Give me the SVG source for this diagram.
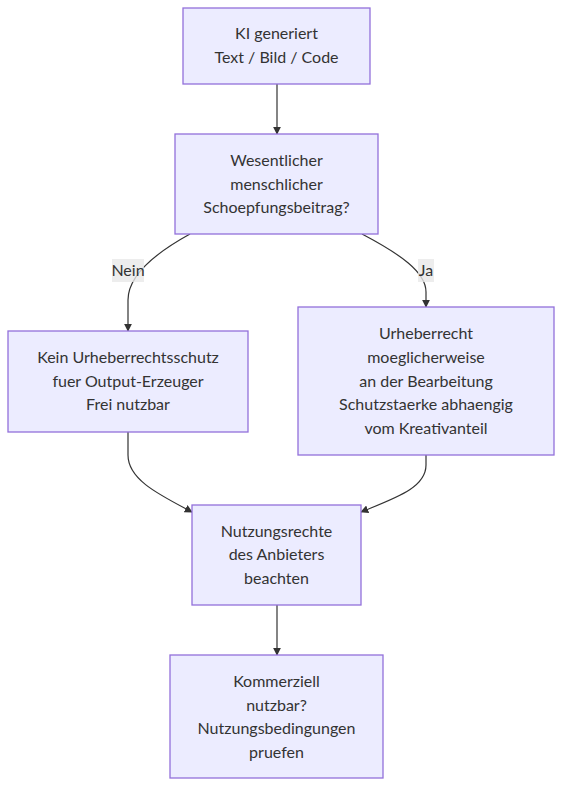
<svg xmlns="http://www.w3.org/2000/svg" width="570" height="798" viewBox="0 0 570 798">
<style>
.node rect{fill:#ECECFF;stroke:#9370DB;stroke-width:1.3px}
.node text{font-family:Lato,"Liberation Sans",sans-serif;font-size:16px;fill:#333;text-anchor:middle}
.edge{fill:none;stroke:#333;stroke-width:1.2px}
.lbl rect{fill:#e8e8e8;opacity:0.8}
.lbl text{font-family:Lato,"Liberation Sans",sans-serif;font-size:16px;fill:#333;text-anchor:middle}
</style>
<defs>
<marker id="arr" viewBox="0 0 10 10" refX="9" refY="5" markerWidth="8" markerHeight="8" markerUnits="userSpaceOnUse" orient="auto">
<path d="M0,0 L10,5 L0,10 z" fill="#333"/>
</marker>
</defs>
<rect width="570" height="798" fill="#fff"/>
<g id="connectors">
<path class="edge" d="M277,84 L277,134" marker-end="url(#arr)"/>
<path class="edge" d="M190,234 C150,256 128,278 128,300 L128,331" marker-end="url(#arr)"/>
<path class="edge" d="M362,234 C400,254 426,272 426,292 L426,307" marker-end="url(#arr)"/>
<path class="edge" d="M128,432 L128,455 C128,480 160,495 192,512" marker-end="url(#arr)"/>
<path class="edge" d="M426,455 L426,465 C426,488 395,498 361,512" marker-end="url(#arr)"/>
<path class="edge" d="M277,605 L277,655" marker-end="url(#arr)"/>
</g>
<g id="edge-labels">
<g class="lbl" id="label-nein"><rect x="112" y="259" width="32" height="23"/><text x="128" y="276">Nein</text></g>
<g class="lbl" id="label-ja"><rect x="418" y="259" width="16" height="23"/><text x="426" y="276">Ja</text></g>
</g>
<g id="n1" class="node"><rect x="183" y="8" width="187" height="76"/><text x="276.5" y="39">KI generiert</text><text x="276.5" y="63">Text / Bild / Code</text></g>
<g id="n2" class="node"><rect x="175" y="134" width="203" height="100"/><text x="276.5" y="166">Wesentlicher</text><text x="276.5" y="189.5">menschlicher</text><text x="276.5" y="213">Schoepfungsbeitrag?</text></g>
<g id="n3" class="node"><rect x="8" y="331" width="240" height="101"/><text x="128" y="363">Kein Urheberrechtsschutz</text><text x="128" y="387">fuer Output-Erzeuger</text><text x="128" y="410">Frei nutzbar</text></g>
<g id="n4" class="node"><rect x="298" y="307" width="256" height="148"/><text x="426" y="339">Urheberrecht</text><text x="426" y="363">moeglicherweise</text><text x="426" y="387">an der Bearbeitung</text><text x="426" y="410">Schutzstaerke abhaengig</text><text x="426" y="434">vom Kreativanteil</text></g>
<g id="n5" class="node"><rect x="192" y="505" width="169" height="100"/><text x="276.5" y="537">Nutzungsrechte</text><text x="276.5" y="560">des Anbieters</text><text x="276.5" y="584">beachten</text></g>
<g id="n6" class="node"><rect x="170" y="655" width="213" height="123"/><text x="276.5" y="687">Kommerziell</text><text x="276.5" y="711">nutzbar?</text><text x="276.5" y="734">Nutzungsbedingungen</text><text x="276.5" y="758">pruefen</text></g>
</svg>
